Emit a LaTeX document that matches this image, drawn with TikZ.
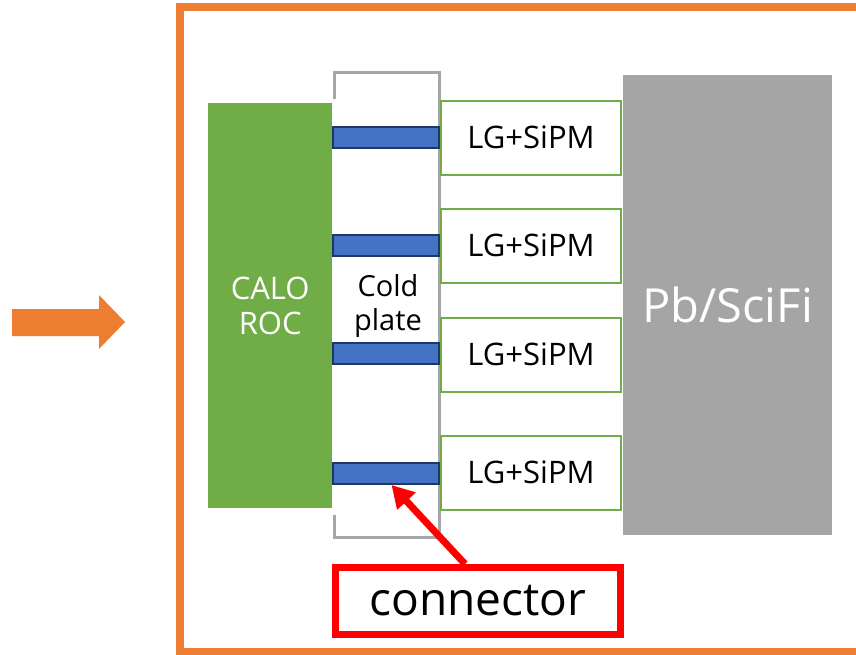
\documentclass[tikz,border=0pt]{standalone}
\usepackage{fontspec}
\setmainfont{Open Sans}
\usetikzlibrary{arrows.meta,calc}
\definecolor{orng}{HTML}{ED7D31}
\definecolor{grn}{HTML}{70AD47}
\definecolor{blu}{HTML}{4472C4}
\definecolor{navy}{HTML}{1F3864}
\definecolor{gry}{HTML}{A5A5A5}
\definecolor{brk}{HTML}{A6A6A6}
\definecolor{rd}{HTML}{FF0000}
\tikzset{
  conbox/.style={draw=navy, line width=2pt, fill=blu, minimum width=106pt, minimum height=21pt, inner sep=0pt},
  lgbox/.style={draw=grn, line width=2pt, fill=white, minimum width=180pt, minimum height=74pt, inner sep=0pt, font=\fontsize{31}{34}\selectfont},
}
\begin{document}
\begin{tikzpicture}[x=1pt,y=-1pt]
\useasboundingbox (0,0) rectangle (856,654);
\fill[white] (0,0) rectangle (856,654);
% orange frame
\draw[orng, line width=8pt] (870,7) -- (180,7) -- (180,652) -- (870,652);
% orange arrow
\fill[orng] (12,309) -- (99,309) -- (99,295) -- (125,322) -- (99,349) -- (99,336) -- (12,336) -- cycle;
% CALO ROC
\node[fill=grn, minimum width=124pt, minimum height=405pt, inner sep=0pt, anchor=north west, text=white, align=center, font=\fontsize{31}{35}\selectfont] (roc) at (208,103) {CALO\\ROC};
% Pb/SciFi
\node[fill=gry, minimum width=209pt, minimum height=460pt, inner sep=0pt, anchor=north west, text=white, font=\fontsize{47}{52}\selectfont] (pb) at (623,75) {Pb/SciFi};
% cold plate bracket
\draw[brk, line width=3pt] (334,99) -- (334,72) -- (439,72) -- (439,537) -- (334,537) -- (334,515);
\node[align=center, font=\fontsize{29}{34}\selectfont] (cold) at (388,306) {Cold\\plate};
% LG boxes
\node[lgbox] (lg1) at (531,137.5) {LG+SiPM};
\node[lgbox] (lg2) at (531,245.5) {LG+SiPM};
\node[lgbox] (lg3) at (531,354.5) {LG+SiPM};
\node[lgbox] (lg4) at (531,472.5) {LG+SiPM};
% connectors
\node[conbox] (c1) at (385.5,137) {};
\node[conbox] (c2) at (385.5,245.5) {};
\node[conbox] (c3) at (385.5,353.5) {};
\node[conbox] (c4) at (385.5,473.5) {};
% connector label
\node[draw=rd, line width=7pt, minimum width=285pt, minimum height=67pt, inner sep=0pt, font=\fontsize{46}{50}\selectfont] (conn) at (478,601) {connector};
\draw[rd, line width=7pt, -{Triangle[length=22pt,width=24pt]}] ($(conn.north)+(-13,0)$) -- ($(c4.south)+(6,0)$);
\end{tikzpicture}
\end{document}
